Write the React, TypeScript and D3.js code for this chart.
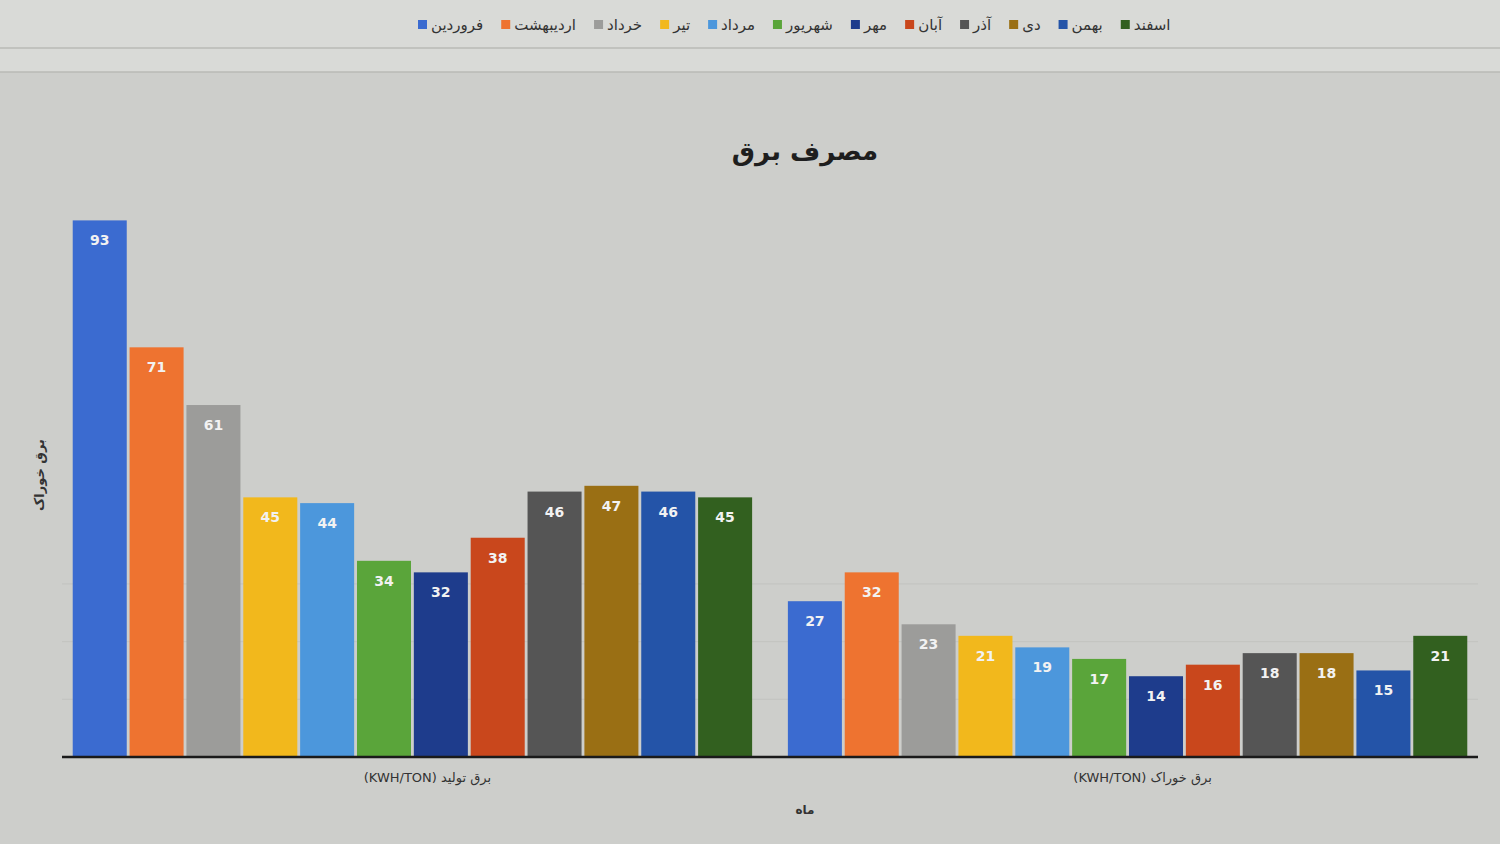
import { useRef, useEffect } from "react";
import * as d3 from "d3";

const W = 1500;
const H = 844;

// Persian months (series), in legend order
const months = [
  "فروردین",
  "اردیبهشت",
  "خرداد",
  "تیر",
  "مرداد",
  "شهریور",
  "مهر",
  "آبان",
  "آذر",
  "دی",
  "بهمن",
  "اسفند",
];

const colors = [
  "#3b6bd0",
  "#ee7330",
  "#9c9c9a",
  "#f2b81c",
  "#4c97dc",
  "#5aa53a",
  "#1e3c8c",
  "#c9471c",
  "#555555",
  "#9a6f14",
  "#2454a8",
  "#32601f",
];

const categories = ["برق تولید (KWH/TON)", "برق خوراک (KWH/TON)"];

const produced = [93, 71, 61, 45, 44, 34, 32, 38, 46, 47, 46, 45];
const feed = [27, 32, 23, 21, 19, 17, 14, 16, 18, 18, 15, 21];

const values = [produced, feed];

const yTicks = [10, 20, 30];

const FONT = "'DejaVu Sans', sans-serif";
const MARGIN = { left: 62, right: 22, baseline: 757, top: 180 };

export default function App() {
  const svgRef = useRef<SVGSVGElement>(null);

  useEffect(() => {
    if (!svgRef.current) return;
    const svg = d3.select(svgRef.current);
    svg.selectAll("*").remove();

    // background: screen + spreadsheet band
    svg.append("rect").attr("width", W).attr("height", H).attr("fill", "#cdcecb");
    svg.append("rect").attr("width", W).attr("height", 72).attr("fill", "#d9dad7");
    [48, 72].forEach((y) =>
      svg
        .append("line")
        .attr("x1", 0)
        .attr("x2", W)
        .attr("y1", y)
        .attr("y2", y)
        .attr("stroke", "#b9bab6")
        .attr("stroke-width", 1.5)
    );

    const x0 = d3
      .scaleBand<number>()
      .domain(d3.range(categories.length))
      .range([MARGIN.left, W - MARGIN.right])
      .paddingInner(0.05)
      .paddingOuter(0.015);

    const x1 = d3
      .scaleBand<number>()
      .domain(d3.range(months.length))
      .range([0, x0.bandwidth()])
      .paddingInner(0.05);

    const y = d3
      .scaleLinear()
      .domain([0, 100])
      .range([MARGIN.baseline, MARGIN.top]);

    // faint gridline marks
    svg
      .append("g")
      .selectAll("line")
      .data(yTicks)
      .join("line")
      .attr("x1", MARGIN.left)
      .attr("x2", W - MARGIN.right)
      .attr("y1", (d) => y(d))
      .attr("y2", (d) => y(d))
      .attr("stroke", "#b4b5b1")
      .attr("stroke-width", 1)
      .attr("opacity", 0.4);

    // bars
    const groups = svg
      .append("g")
      .selectAll("g")
      .data(values)
      .join("g")
      .attr("transform", (_, i) => `translate(${x0(i)},0)`);

    groups
      .selectAll("rect")
      .data((d) => d)
      .join("rect")
      .attr("x", (_, i) => x1(i)!)
      .attr("width", x1.bandwidth())
      .attr("y", (d) => y(d))
      .attr("height", (d) => y(0) - y(d))
      .attr("fill", (_, i) => colors[i]);

    groups
      .selectAll("text")
      .data((d) => d)
      .join("text")
      .attr("x", (_, i) => x1(i)! + x1.bandwidth() / 2)
      .attr("y", (d) => y(d) + 25)
      .attr("text-anchor", "middle")
      .attr("font-family", FONT)
      .attr("font-size", 14)
      .attr("font-weight", "bold")
      .attr("fill", "#f2f2f2")
      .text((d) => d);

    // baseline
    svg
      .append("line")
      .attr("x1", MARGIN.left)
      .attr("x2", W - MARGIN.right)
      .attr("y1", y(0))
      .attr("y2", y(0))
      .attr("stroke", "#1a1a1a")
      .attr("stroke-width", 2.5);

    // category labels
    svg
      .append("g")
      .selectAll("text")
      .data(categories)
      .join("text")
      .attr("x", (_, i) => x0(i)! + x0.bandwidth() / 2 + 15)
      .attr("y", y(0) + 25)
      .attr("text-anchor", "middle")
      .attr("direction", "rtl")
      .attr("font-family", FONT)
      .attr("font-size", 13)
      .attr("fill", "#333")
      .text((d) => d);

    // x-axis title
    svg
      .append("text")
      .attr("x", 805)
      .attr("y", 814)
      .attr("text-anchor", "middle")
      .attr("font-family", FONT)
      .attr("font-size", 12)
      .attr("font-weight", "bold")
      .attr("fill", "#333")
      .text("ماه");

    // y-axis title
    svg
      .append("text")
      .attr("transform", `translate(44,475) rotate(-90)`)
      .attr("text-anchor", "middle")
      .attr("font-family", FONT)
      .attr("font-size", 13)
      .attr("font-weight", "bold")
      .attr("fill", "#333")
      .text("برق خوراک");

    // title
    svg
      .append("text")
      .attr("x", 805)
      .attr("y", 160)
      .attr("text-anchor", "middle")
      .attr("font-family", FONT)
      .attr("font-size", 26)
      .attr("font-weight", "bold")
      .attr("fill", "#1e1e1e")
      .text("مصرف برق");

    // legend: marker then label, flowing left to right
    const legend = svg.append("g").attr("transform", "translate(418,27)");
    let cx = 0;
    months.forEach((m, i) => {
      legend
        .append("rect")
        .attr("x", cx)
        .attr("y", -7)
        .attr("width", 9)
        .attr("height", 9)
        .attr("fill", colors[i]);
      const t = legend
        .append("text")
        .attr("x", cx + 13)
        .attr("y", 3)
        .attr("font-family", FONT)
        .attr("font-size", 15)
        .attr("fill", "#333")
        .text(m);
      const tw = (t.node() as SVGTextElement).getComputedTextLength();
      cx += 13 + tw + 18;
    });
  }, []);

  return (
    <svg
      ref={svgRef}
      width={W}
      height={H}
      style={{ position: "absolute", left: 0, top: 0 }}
    />
  );
}
